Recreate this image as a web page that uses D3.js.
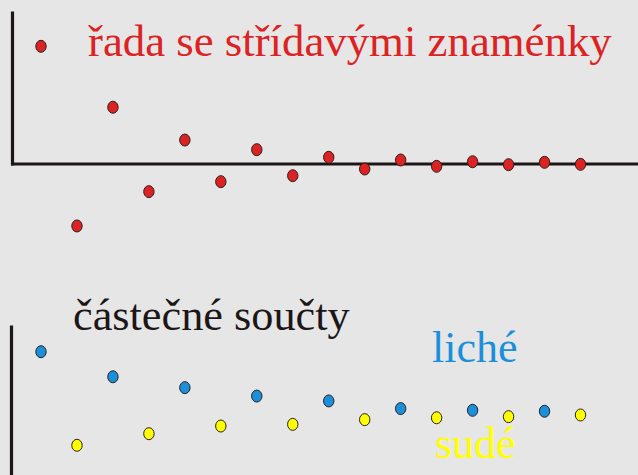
<!DOCTYPE html>
<html>
<head>
<meta charset="utf-8">
<script src="https://cdnjs.cloudflare.com/ajax/libs/d3/7.8.5/d3.min.js"></script>
<style>
  body { margin: 0; background: #e6e6e6; }
  svg { display: block; }
</style>
</head>
<body>
<script>

// clenove rady (index n, hodnota a_n), a1 = 1
var terms = [1, -0.533, 0.48, -0.24, 0.20, -0.155, 0.118, -0.104, 0.053, -0.047, 0.030, -0.024, 0.015, -0.010, 0.010, -0.007];
// castecne soucty - liche (n = 1,3,5,...) a sude (n = 2,4,6,...)
var oddSums = [1, 0.866, 0.808, 0.763, 0.737, 0.696, 0.687, 0.682];
var evenSums = [0.5, 0.562, 0.603, 0.612, 0.637, 0.647, 0.653, 0.662];

var labels = {
    series: "řada se střídavými znaménky",
    sums: "částečné součty",
    odd: "liché",
    even: "sudé"
};

var width = 638;
var height = 475;

var red = "#dc2222";
var blue = "#1a8fda";
var yellow = "#ffff00";
var axisColor = "#1c1616";
var serif = "'Liberation Serif', 'DejaVu Serif', 'Times New Roman', Times, serif";

var svg = d3.select("body").append("svg").attr("width", width).attr("height", height);

//SCALES
var xScale = d3.scaleLinear().domain([1, 16]).range([41, 580.5]);
var xAxisScale = d3.scaleLinear().domain([0, 1]).range([10.5, 638]);

var yTop = d3.scaleLinear().domain([0, 1]).range([163.5, 46.3]);
var yTopAxis = d3.scaleLinear().domain([0, 1]).range([165, 11]);

var yBottom = d3.scaleLinear().domain([0.5, 1]).range([445.3, 351.7]);
var yBottomAxis = d3.scaleLinear().domain([0, 1]).range([475, 325]);

//AXES (just the lines, no ticks)
function styleAxis(g) {
    g.selectAll("path").attr("stroke", axisColor).attr("stroke-width", 3.2);
}

svg.append("g")
    .attr("transform", "translate(0," + yTop(0) + ")")
    .call(d3.axisBottom(xAxisScale).tickValues([]).tickSizeOuter(0))
    .call(styleAxis);

svg.append("g")
    .attr("transform", "translate(12,0)")
    .call(d3.axisLeft(yTopAxis).tickValues([]).tickSizeOuter(0))
    .call(styleAxis);

svg.append("g")
    .attr("transform", "translate(11,0)")
    .call(d3.axisLeft(yBottomAxis).tickValues([]).tickSizeOuter(0))
    .call(styleAxis);

//DOTS
function dots(data, startN, stepN, yScale, color) {
    svg.append("g").selectAll("ellipse")
        .data(data)
        .enter().append("ellipse")
        .attr("cx", function(d, i) { return xScale(startN + i * stepN); })
        .attr("cy", function(d) { return yScale(d); })
        .attr("rx", 5.2)
        .attr("ry", 6)
        .attr("fill", color)
        .attr("stroke", "#2a2020")
        .attr("stroke-width", 1);
}

dots(terms, 1, 1, yTop, red);
dots(oddSums, 1, 2, yBottom, blue);
dots(evenSums, 2, 2, yBottom, yellow);

//TEXTS
function label(x, y, color, txt, size) {
    svg.append("text")
        .attr("x", x).attr("y", y)
        .attr("fill", color)
        .style("font-family", serif)
        .style("font-size", size + "px")
        .text(txt);
}
label(88, 56, red, labels.series, 44.8);
label(73, 330, "#1c1616", labels.sums, 44.3);
label(432, 362, blue, labels.odd, 44);
label(435, 458, yellow, labels.even, 44);

</script>
</body>
</html>
